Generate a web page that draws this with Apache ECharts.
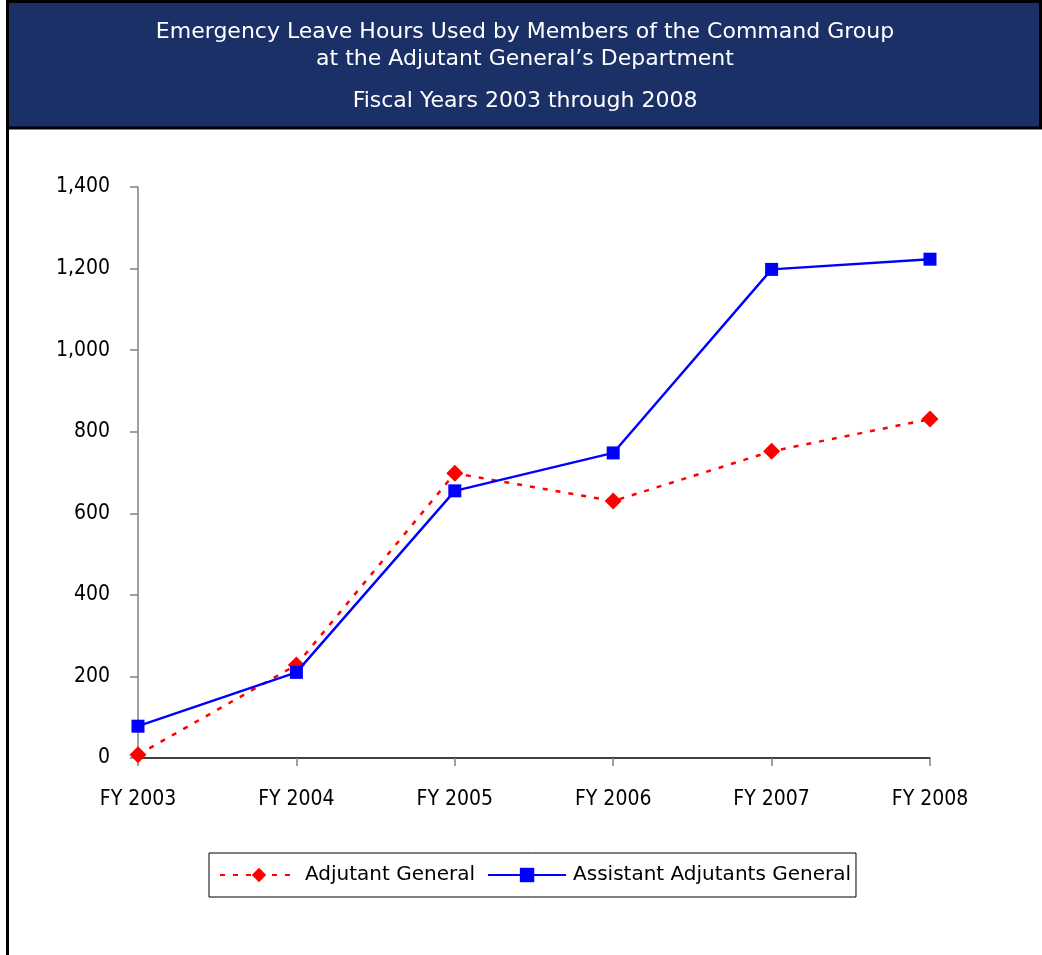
<!DOCTYPE html>
<html>
<head>
<meta charset="utf-8">
<script src="https://cdn.jsdelivr.net/npm/echarts@6/dist/echarts.min.js"></script>
<style>
html,body{margin:0;padding:0;background:#fff;}
#chart{width:1042px;height:955px;}
</style>
</head>
<body>
<div id="chart"></div>
<script>
var categories = ['FY 2003', 'FY 2004', 'FY 2005', 'FY 2006', 'FY 2007', 'FY 2008'];
var adjutantGeneral = [8, 228, 698, 630, 752, 831];
var assistantAdjutants = [78, 210, 655, 748, 1198, 1223];
var yTicks = [0, 200, 400, 600, 800, 1000, 1200, 1400];
var titleLines = [
  'Emergency Leave Hours Used by Members of the Command Group',
  'at the Adjutant General\u2019s Department',
  'Fiscal Years 2003 through 2008'
];

var FONT = 'DejaVu Sans';
var FONT_C = 'DejaVu Sans Condensed';
var chart = echarts.init(document.getElementById('chart'), null, {renderer: 'canvas'});

var option = {
  animation: false,
  backgroundColor: '#ffffff',
  graphic: [
    {type: 'rect', shape: {x: 7.5, y: 1.5, width: 1033, height: 126.5}, style: {fill: '#1b3067', stroke: '#000', lineWidth: 3}, z: 1},
    {type: 'line', shape: {x1: 7.5, y1: 0, x2: 7.5, y2: 955}, style: {stroke: '#000', lineWidth: 3}, z: 2},
    {type: 'text', x: 525, y: 32, style: {text: titleLines[0], fill: '#fff', font: '22px "' + FONT + '"', textAlign: 'center', textVerticalAlign: 'middle'}, z: 3},
    {type: 'text', x: 525, y: 59, style: {text: titleLines[1], fill: '#fff', font: '22px "' + FONT + '"', textAlign: 'center', textVerticalAlign: 'middle'}, z: 3},
    {type: 'text', x: 525, y: 101, style: {text: titleLines[2], fill: '#fff', font: '22px "' + FONT + '"', textAlign: 'center', textVerticalAlign: 'middle'}, z: 3}
  ],
  grid: {left: 138, right: 112, top: 187, bottom: 197, containLabel: false},
  legend: {
    left: 209, top: 853,
    padding: [12, 5, 12, 10],
    borderColor: '#000', borderWidth: 1,
    itemGap: 12,
    itemWidth: 78, itemHeight: 18,
    textStyle: {fontFamily: FONT, fontSize: 20, color: '#000', padding: [0, 0, 0, 2]},
    data: [
      {name: 'Adjutant General'},
      {name: 'Assistant Adjutants General'}
    ]
  },
  xAxis: {
    type: 'category',
    data: categories,
    boundaryGap: false,
    axisLine: {lineStyle: {color: '#000', width: 1.5}},
    axisTick: {show: true, length: 8, lineStyle: {color: '#808080', width: 1.5}},
    axisLabel: {fontFamily: FONT_C, fontSize: 21, color: '#000', margin: 31}
  },
  yAxis: {
    type: 'value',
    min: 0, max: 1400, interval: 200,
    axisLine: {show: true, lineStyle: {color: '#808080', width: 1.5}},
    axisTick: {show: true, length: 8, lineStyle: {color: '#808080', width: 1.5}},
    splitLine: {show: false},
    axisLabel: {
      fontFamily: FONT_C, fontSize: 21, color: '#000', margin: 28,
      formatter: function (v) { return yTicks.indexOf(v) >= 0 ? v.toLocaleString('en-US') : ''; }
    }
  },
  series: [
    {
      name: 'Adjutant General',
      type: 'line',
      data: adjutantGeneral,
      symbol: 'diamond',
      symbolSize: 17,
      itemStyle: {color: '#ff0000'},
      lineStyle: {color: '#ff0000', width: 2.5, type: [5, 8]},
      z: 2
    },
    {
      name: 'Assistant Adjutants General',
      type: 'line',
      data: assistantAdjutants,
      symbol: 'rect',
      symbolSize: 13,
      itemStyle: {color: '#0000ff'},
      lineStyle: {color: '#0000ff', width: 2.4},
      z: 3
    }
  ]
};
chart.setOption(option);
</script>
</body>
</html>
